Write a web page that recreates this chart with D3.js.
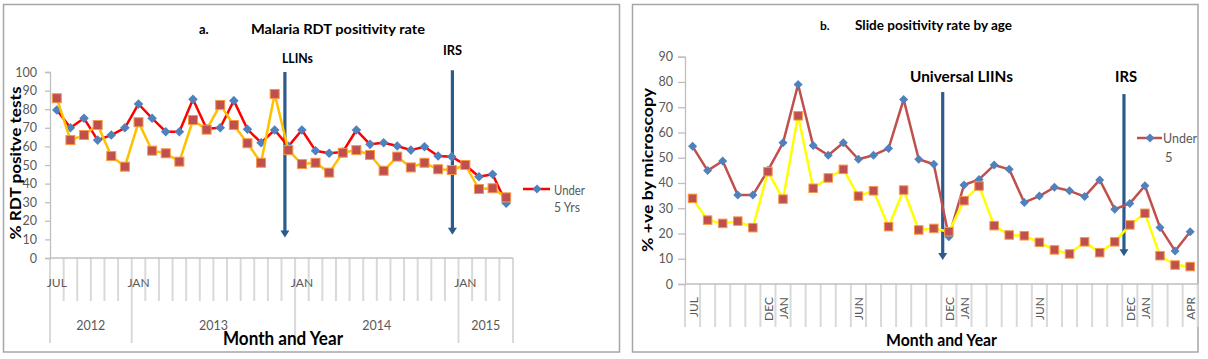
<!DOCTYPE html>
<html>
<head>
<meta charset="utf-8">
<script src="https://cdn.jsdelivr.net/npm/d3@7"></script>
<style>
  html, body { margin: 0; padding: 0; background: #fff; }
  svg { display: block; }
  text { font-family: Lato, "Open Sans", "Liberation Sans", sans-serif; }
</style>
</head>
<body>
<svg id="chart" width="1208" height="359"></svg>
<script>
// ---------------- DATA ----------------
const categories = [
  "Jul 2012","Aug 2012","Sep 2012","Oct 2012","Nov 2012","Dec 2012",
  "Jan 2013","Feb 2013","Mar 2013","Apr 2013","May 2013","Jun 2013",
  "Jul 2013","Aug 2013","Sep 2013","Oct 2013","Nov 2013","Dec 2013",
  "Jan 2014","Feb 2014","Mar 2014","Apr 2014","May 2014","Jun 2014",
  "Jul 2014","Aug 2014","Sep 2014","Oct 2014","Nov 2014","Dec 2014",
  "Jan 2015","Feb 2015","Mar 2015","Apr 2015"
];
// Panel a tick labels (only some shown)
const aMonthLabels = ["JUL","","","","","","JAN","","","","","","","","","","","",
  "JAN","","","","","","","","","","","","JAN","","",""];
const aYearLabels = ["2012","2013","2014","2015"];
const aYearSpans = [6, 12, 12, 4];
// Panel b tick labels
const bMonthLabels = ["JUL","","","","","DEC","JAN","","","","","JUN","","","","","","DEC",
  "JAN","","","","","JUN","","","","","","DEC","JAN","","","APR"];

// Panel a: Malaria RDT positivity rate
const aUnder5 = [79.6,70,75.1,63.4,66.1,70,82.8,75.1,67.9,67.9,85.3,69.5,70,84.6,69.2,62,68.8,60,
  68.8,57.7,56.3,57,68.8,61.1,62,60.2,58,59.8,54.8,54.5,50,43.7,45,29.4];
const aOver5 = [85.9,63.4,66.1,71.5,54.8,49.1,73,57.7,56.3,51.8,74.2,69,82.3,71.5,61.7,51.2,88.2,58,
  50.5,51.2,45.9,56.6,58,55.4,46.9,54.5,48.7,51.2,47.7,47.3,50,37.1,37.5,32.6];
const aTicks = [0,10,20,30,40,50,60,70,80,90,100];
const aEvents = ["LLINs", "IRS"];
const aEventPos = [17.25, 29.55];     // position along the month axis (months from Jul 2012)
const aEventRange = [[100, 11], [101, 12.5]];

// Panel b: Slide positivity rate by age
const bUnder5 = [54.5,44.9,48.7,35.2,35.2,45,55.9,79,54.8,51,55.9,49.4,51,53.7,73.1,49.4,47.4,18.7,
  39.2,41.4,47.1,45.4,32.3,34.8,38.3,36.9,34.6,41.2,29.6,31.9,38.9,22.4,13.1,20.7];
const bOver5 = [33.9,25.3,24,24.9,22.3,44.5,33.6,66.6,37.9,42,45.4,34.8,36.9,22.7,37.2,21.4,22,20.7,
  33,38.8,23.1,19.4,19.1,16.5,13.5,11.9,16.7,12.4,16.7,23.4,28,11.2,7.5,6.9];
const bTicks = [0,10,20,30,40,50,60,70,80,90];
const bEvents = ["Universal LIINs", "IRS"];
const bEventPos = [17.09, 29.11];
const bEventRange = [[76, 9.5], [75.2, 11]];

// ---------------- DRAW ----------------
const svg = d3.select("#chart");
const AXIS = "#bfbfbf", GRID = "#d9d9d9", LABEL = "#595959", ARROW = "#2d5a8c";

function txt(g, x, y, s, o) {
  o = o || {};
  const t = g.append("text").attr("x", x).attr("y", y).text(s)
    .attr("font-size", o.size || 12)
    .attr("font-weight", o.weight || "normal")
    .attr("fill", o.fill || "#000")
    .attr("text-anchor", o.anchor || "start");
  if (o.width) t.attr("textLength", o.width).attr("lengthAdjust", "spacingAndGlyphs");
  if (o.rotate) t.attr("transform", `rotate(${o.rotate},${x},${y})`);
  return t;
}

// panel frames
svg.append("rect").attr("x", 3.5).attr("y", 4.5).attr("width", 616).attr("height", 347.5)
  .attr("fill", "none").attr("stroke", "#a6a6a6").attr("stroke-width", 1.5);
svg.append("rect").attr("x", 632.5).attr("y", 4.5).attr("width", 565.5).attr("height", 347.5)
  .attr("fill", "none").attr("stroke", "#a6a6a6").attr("stroke-width", 1.5);

function diamond(g, cx, cy, r, fill) {
  g.append("path").attr("d", `M${cx},${cy - r}L${cx + r},${cy}L${cx},${cy + r}L${cx - r},${cy}Z`)
    .attr("fill", fill);
}
function square(g, cx, cy, s, fill, stroke) {
  g.append("rect").attr("x", cx - s / 2).attr("y", cy - s / 2).attr("width", s).attr("height", s)
    .attr("fill", fill).attr("stroke", stroke).attr("stroke-width", 1);
}

function drawEvents(g, names, pos, ranges, cont, y, cfg) {
  names.forEach((n, i) => {
    const x = cont(pos[i]);
    const y1 = y(ranges[i][0]), y2 = y(ranges[i][1]);
    g.append("line").attr("x1", x).attr("x2", x).attr("y1", y1).attr("y2", y2 - 6)
      .attr("stroke", ARROW).attr("stroke-width", 3.2);
    g.append("path").attr("d", `M${x - 4.5},${y2 - 7}L${x + 4.5},${y2 - 7}L${x},${y2}Z`).attr("fill", ARROW);
    const l = cfg[i];
    txt(g, l.x, l.y, n, {size: l.size, weight: "bold", width: l.w});
  });
}

// ========== PANEL A ==========
(function () {
  const g = svg.append("g");
  const x0 = 50, x1 = 513, yTop = 72, yBot = 258;
  const x = d3.scaleBand().domain(categories).range([x0, x1]);
  const cont = d3.scaleLinear().domain([0, categories.length]).range([x0, x1]);
  const y = d3.scaleLinear().domain([0, 100]).range([yBot, yTop]);

  // category separators
  const bounds = d3.range(categories.length + 1);
  const yearBounds = [0];
  aYearSpans.reduce((acc, s) => { yearBounds.push(acc + s); return acc + s; }, 0);
  g.selectAll("line.sep").data(bounds).join("line")
    .attr("x1", d => cont(d)).attr("x2", d => cont(d))
    .attr("y1", yBot).attr("y2", d => yearBounds.includes(d) ? 343 : 301)
    .attr("stroke", GRID).attr("stroke-width", 2);

  // y axis
  const yAxis = d3.axisLeft(y).tickValues(aTicks).tickSize(5).tickPadding(8);
  const ya = g.append("g").attr("transform", `translate(${x0},0)`).call(yAxis);
  ya.select(".domain").attr("stroke", AXIS).attr("stroke-width", 1.3);
  ya.selectAll(".tick line").attr("stroke", AXIS).attr("stroke-width", 1.3);
  ya.selectAll(".tick text").attr("fill", LABEL).attr("font-size", 12.5)
    .style("font-family", "Lato, sans-serif");
  g.append("line").attr("x1", x0).attr("x2", x1).attr("y1", yBot).attr("y2", yBot)
    .attr("stroke", AXIS).attr("stroke-width", 1.3);

  // month labels
  g.selectAll("text.mon").data(categories).join("text")
    .attr("x", d => x(d) + x.bandwidth() / 2).attr("y", 287)
    .attr("text-anchor", "middle").attr("font-size", 12).attr("fill", LABEL)
    .text((d, i) => aMonthLabels[i]);
  // year labels
  aYearLabels.forEach((yl, i) => {
    const cx = cont((yearBounds[i] + yearBounds[i + 1]) / 2);
    txt(g, cx, 330, yl, {size: 12.5, fill: LABEL, anchor: "middle"});
  });

  // events
  drawEvents(g, aEvents, aEventPos, aEventRange, cont, y, [
    {x: 282, y: 63, size: 13, w: 31},
    {x: 443, y: 55, size: 13, w: 19}
  ]);

  // series
  const line = d3.line().x((d, i) => x(categories[i]) + x.bandwidth() / 2).y(d => y(d));
  g.append("path").datum(aUnder5).attr("d", line).attr("fill", "none")
    .attr("stroke", "#ff0000").attr("stroke-width", 2.5).attr("stroke-linejoin", "round");
  aUnder5.forEach((v, i) => diamond(g, x(categories[i]) + x.bandwidth() / 2, y(v), 4.8, "#4f81bd"));
  g.append("path").datum(aOver5).attr("d", line).attr("fill", "none")
    .attr("stroke", "#ffc000").attr("stroke-width", 2.5).attr("stroke-linejoin", "round");
  aOver5.forEach((v, i) => square(g, x(categories[i]) + x.bandwidth() / 2, y(v), 9, "#c0504d", "#f79646"));

  // titles
  txt(g, 199, 34, "a.", {size: 13, weight: "bold"});
  txt(g, 251, 34, "Malaria RDT positivity rate", {size: 13.5, weight: "bold", width: 174});
  txt(g, 223, 345, "Month and Year", {size: 19, weight: "bold", width: 120});
  txt(g, 21, 163, "% RDT positve tests", {size: 14.5, weight: "bold", anchor: "middle", width: 153, rotate: -90});

  // legend
  g.append("line").attr("x1", 523).attr("x2", 550).attr("y1", 189).attr("y2", 189)
    .attr("stroke", "#ff0000").attr("stroke-width", 2.5);
  diamond(g, 537, 189, 4.5, "#4f81bd");
  txt(g, 554, 195, "Under", {size: 12.5, fill: LABEL, width: 31});
  txt(g, 554, 212, "5 Yrs", {size: 12.5, fill: LABEL, width: 26});
})();

// ========== PANEL B ==========
(function () {
  const g = svg.append("g");
  const x0 = 685, x1 = 1197.7, yTop = 56.7, yBot = 284;
  const x = d3.scaleBand().domain(categories).range([x0, x1]);
  const cont = d3.scaleLinear().domain([0, categories.length]).range([x0, x1]);
  const y = d3.scaleLinear().domain([0, 90]).range([yBot, yTop]);

  g.selectAll("line.sep").data(d3.range(categories.length + 1)).join("line")
    .attr("x1", d => cont(d)).attr("x2", d => cont(d))
    .attr("y1", yBot).attr("y2", 327)
    .attr("stroke", GRID).attr("stroke-width", 2);

  const yAxis = d3.axisLeft(y).tickValues(bTicks).tickSize(7).tickPadding(5);
  const ya = g.append("g").attr("transform", `translate(${x0},0)`).call(yAxis);
  ya.select(".domain").attr("stroke", AXIS).attr("stroke-width", 1.3);
  ya.selectAll(".tick line").attr("stroke", AXIS).attr("stroke-width", 1.3);
  ya.selectAll(".tick text").attr("fill", LABEL).attr("font-size", 12.5)
    .style("font-family", "Lato, sans-serif");
  g.append("line").attr("x1", x0).attr("x2", x1).attr("y1", yBot).attr("y2", yBot)
    .attr("stroke", AXIS).attr("stroke-width", 1.3);

  g.selectAll("text.mon").data(categories).join("text")
    .attr("transform", d => `translate(${x(d) + x.bandwidth() / 2 + 5},297) rotate(-90)`)
    .attr("text-anchor", "end").attr("font-size", 12).attr("fill", LABEL)
    .text((d, i) => bMonthLabels[i]);

  drawEvents(g, bEvents, bEventPos, bEventRange, cont, y, [
    {x: 910, y: 82, size: 16, w: 103},
    {x: 1115, y: 82, size: 16, w: 22}
  ]);

  const line = d3.line().x((d, i) => x(categories[i]) + x.bandwidth() / 2).y(d => y(d));
  g.append("path").datum(bUnder5).attr("d", line).attr("fill", "none")
    .attr("stroke", "#c0504d").attr("stroke-width", 2.5).attr("stroke-linejoin", "round");
  bUnder5.forEach((v, i) => diamond(g, x(categories[i]) + x.bandwidth() / 2, y(v), 4.5, "#4f81bd"));
  g.append("path").datum(bOver5).attr("d", line).attr("fill", "none")
    .attr("stroke", "#ffff00").attr("stroke-width", 2.5).attr("stroke-linejoin", "round");
  bOver5.forEach((v, i) => square(g, x(categories[i]) + x.bandwidth() / 2, y(v), 8.5, "#c0504d", "#f79646"));

  txt(g, 820, 30, "b.", {size: 12, weight: "bold"});
  txt(g, 855, 30, "Slide positivity rate by age", {size: 12.5, weight: "bold", width: 157});
  txt(g, 886, 346, "Month and Year", {size: 17, weight: "bold", width: 111});
  txt(g, 653, 170, "% +ve by microscopy", {size: 15, weight: "bold", anchor: "middle", width: 164, rotate: -90});

  g.append("line").attr("x1", 1137).attr("x2", 1162).attr("y1", 138).attr("y2", 138)
    .attr("stroke", "#c0504d").attr("stroke-width", 2.5);
  diamond(g, 1150, 138, 4.5, "#4f81bd");
  txt(g, 1163, 143, "Under", {size: 13, fill: LABEL, width: 34});
  txt(g, 1165, 162, "5", {size: 13, fill: LABEL});
})();
</script>
</body>
</html>
